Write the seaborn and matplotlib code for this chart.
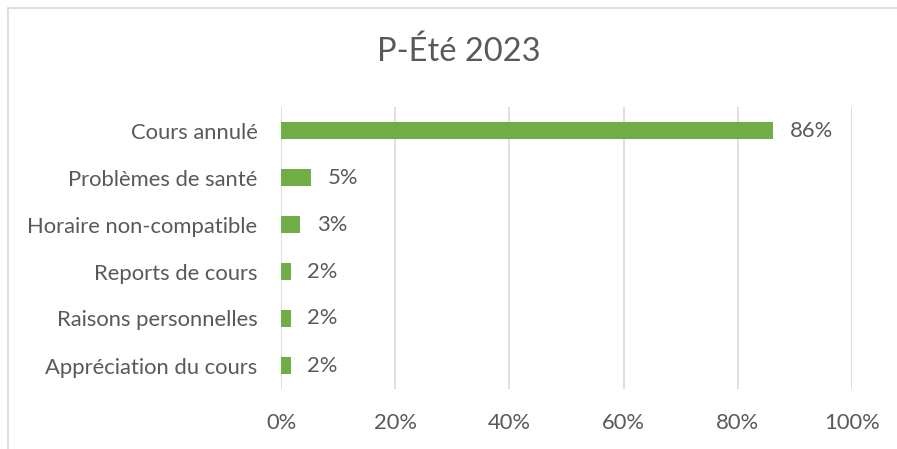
import numpy as np
import pandas as pd
import seaborn as sns
import matplotlib.pyplot as plt
from matplotlib.lines import Line2D
from matplotlib.ticker import PercentFormatter

# données
categories = ["Cours annulé", "Problèmes de santé", "Horaire non-compatible",
              "Reports de cours", "Raisons personnelles", "Appréciation du cours"]
valeurs = [86.2, 5.3, 3.4, 1.7, 1.7, 1.7]
x_ticks = [0, 20, 40, 60, 80, 100]
titre = "P-Été 2023"

sns.set_theme(style="white")
plt.rcParams["font.family"] = ["Lato", "DejaVu Sans"]

texte = "#595959"
vert = "#70AD47"
grille = "#D9D9D9"
taille = 15.8

df = pd.DataFrame({"cat": categories, "val": valeurs})

fig = plt.figure(figsize=(8.97, 4.49), dpi=100)
ax = fig.add_axes([281 / 897, 1 - 389 / 449, (852 - 281) / 897, (389 - 107) / 449])

sns.barplot(data=df, y="cat", x="val", color=vert, width=0.35, ax=ax,
            saturation=1, edgecolor="none")

ax.set_xlim(0, 100)
ax.set_ylim(5.5, -0.5)
ax.set_xticks(x_ticks)
ax.xaxis.set_major_formatter(PercentFormatter(decimals=0))
ax.grid(axis="x", color=grille, linewidth=1.2)
ax.set_axisbelow(True)
for s in ax.spines.values():
    s.set_visible(False)
ax.set_xlabel("")
ax.set_ylabel("")
ax.tick_params(axis="y", length=0, pad=17, labelsize=taille, labelcolor=texte)
ax.tick_params(axis="x", length=0, pad=17, labelsize=taille, labelcolor=texte)

# étiquettes de valeur
ax.bar_label(ax.containers[0], labels=[f"{round(v):.0f}%" for v in valeurs],
             padding=12, fontsize=taille, color=texte)

fig.text(459 / 897, 1 - 52 / 449, titre, ha="center", va="center",
         fontsize=23.5, color=texte)

# bordure du graphique
fig.add_artist(Line2D([8 / 897, 8 / 897], [0, 1 - 8 / 449], color=grille,
                      linewidth=1.2, transform=fig.transFigure))
fig.add_artist(Line2D([8 / 897, 1], [1 - 8 / 449, 1 - 8 / 449], color=grille,
                      linewidth=1.2, transform=fig.transFigure))

fig.savefig("out.png", dpi=100, facecolor="white")
